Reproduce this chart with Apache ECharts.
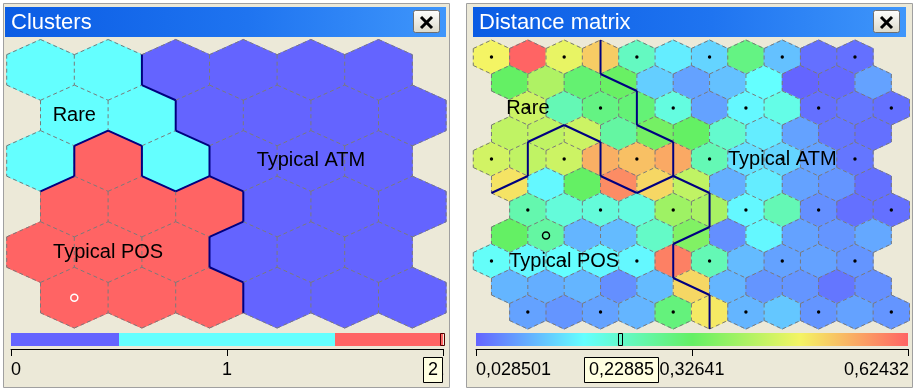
<!DOCTYPE html>
<html><head><meta charset="utf-8">
<script src="https://cdn.jsdelivr.net/npm/echarts@6/dist/echarts.min.js"></script>
<style>html,body{margin:0;padding:0;background:#fff}#c{width:916px;height:389px}</style>
</head><body><div id="c"></div>
<script>
// ================= DATA =================
// Cluster id of each map unit (6 rows x 6 cols, odd rows shifted right): 0 = Typical ATM, 1 = Rare, 2 = Typical POS
const clusterRows = [
  [1, 1, 0, 0, 0, 0],
  [1, 1, 0, 0, 0, 0],
  [1, 2, 1, 0, 0, 0],
  [2, 2, 2, 0, 0, 0],
  [2, 2, 2, 0, 0, 0],
  [2, 2, 2, 0, 0, 0]
];
const clusterTickValues = [0, 1, 2];
const clusterTickLabels = ['0', '1', '2'];
const clusterSelected = 2;
const clusterSelectedLabel = '2';

// Cluster labels and the map unit (row, col) they sit on
const labelTexts = ['Rare', 'Typical ATM', 'Typical POS'];
const labelUnitRow = [1, 2, 4];
const labelUnitCol = [0, 4, 1];
const markedUnit = [5, 0];     // map unit (row, col) with the marker circle
const markedUCell = [7, 1];    // distance-matrix cell (row, index) with the marker circle

// Distance matrix (U-matrix) values, 11 rows x 11 cells
const uRow0  = [0.475, 0.624, 0.463, 0.517, 0.237, 0.160, 0.136, 0.297, 0.118, 0.040, 0.040];
const uRow1  = [0.326, 0.404, 0.314, 0.332, 0.130, 0.088, 0.118, 0.177, 0.029, 0.034, 0.088];
const uRow2  = [0.434, 0.249, 0.297, 0.309, 0.207, 0.088, 0.171, 0.201, 0.040, 0.046, 0.040];
const uRow3  = [0.422, 0.422, 0.434, 0.267, 0.344, 0.326, 0.225, 0.160, 0.088, 0.046, 0.040];
const uRow4  = [0.440, 0.422, 0.434, 0.547, 0.529, 0.553, 0.249, 0.148, 0.136, 0.088, 0.046];
const uRow5  = [0.493, 0.171, 0.326, 0.583, 0.505, 0.422, 0.100, 0.160, 0.088, 0.076, 0.040];
const uRow6  = [0.255, 0.213, 0.213, 0.207, 0.386, 0.398, 0.171, 0.249, 0.070, 0.040, 0.040];
const uRow7  = [0.326, 0.267, 0.106, 0.112, 0.231, 0.356, 0.070, 0.171, 0.088, 0.076, 0.094];
const uRow8  = [0.183, 0.171, 0.177, 0.171, 0.171, 0.595, 0.249, 0.112, 0.088, 0.088, 0.076];
const uRow9  = [0.106, 0.100, 0.106, 0.070, 0.112, 0.505, 0.106, 0.076, 0.076, 0.046, 0.070];
const uRow10 = [0.088, 0.076, 0.088, 0.106, 0.303, 0.487, 0.106, 0.124, 0.076, 0.088, 0.076];
const uMatrixRows = [uRow0, uRow1, uRow2, uRow3, uRow4, uRow5, uRow6, uRow7, uRow8, uRow9, uRow10];
const uRange = [0.028501, 0.62432];
const uTickValues = [0.028501, 0.32641, 0.62432];
const uTickLabels = ['0,028501', '0,32641', '0,62432'];
const uSelected = 0.22885;
const uSelectedLabel = '0,22885';

// ================= STYLE =================
const clusterColors = ['#6464ff', '#64ffff', '#ff6464'];
const uColors = ['#6464ff', '#64ffff', '#64f064', '#f4f464', '#ff6464'];
const FONT_LABEL = '20px "Liberation Sans", Arial, sans-serif';
const FONT_TICK = '18px "Liberation Sans", Arial, sans-serif';
const FONT_TITLE = '22px "Liberation Sans", Arial, sans-serif';
const HEX = [[0, -2/3], [0.5, -1/3], [0.5, 1/3], [0, 2/3], [-0.5, 1/3], [-0.5, -1/3]];

// ================= GEOMETRY HELPERS =================
function mapX(r, c) { return c + 0.5 * (r % 2); }
function uX(r, i) { return i + (r % 2 ? 0.5 : (r % 4 === 0 ? 0 : 1)); }

function uniqueEdges(cells) {
  const seen = new Set(), out = [];
  cells.forEach(function (cell) {
    const x = cell[0], y = cell[1];
    for (let k = 0; k < 6; k++) {
      const a = [x + HEX[k][0], y + HEX[k][1]];
      const b = [x + HEX[(k + 1) % 6][0], y + HEX[(k + 1) % 6][1]];
      let p = a, q = b;
      if (a[0] > b[0] + 1e-9 || (Math.abs(a[0] - b[0]) < 1e-9 && a[1] > b[1])) { p = b; q = a; }
      const key = [p[0], p[1], q[0], q[1]].map(function (v) { return v.toFixed(3); }).join(',');
      if (!seen.has(key)) { seen.add(key); out.push([p[0], p[1], q[0], q[1]]); }
    }
  });
  return out;
}

function clusterBoundaries(scale) {
  const segs = [];
  const nr = clusterRows.length;
  for (let r = 0; r < nr; r++) {
    const nc = clusterRows[r].length;
    for (let c = 0; c < nc; c++) {
      const k = clusterRows[r][c];
      const x = mapX(r, c), y = r;
      const V = HEX.map(function (o) { return [(x + o[0]) * scale, (y + o[1]) * scale]; });
      if (c + 1 < nc && clusterRows[r][c + 1] !== k) segs.push([V[1][0], V[1][1], V[2][0], V[2][1]]);
      if (r + 1 < nr) {
        const odd = r % 2;
        const cr = odd ? c + 1 : c, cl = odd ? c : c - 1;
        if (cr < clusterRows[r + 1].length && clusterRows[r + 1][cr] !== k) segs.push([V[2][0], V[2][1], V[3][0], V[3][1]]);
        if (cl >= 0 && clusterRows[r + 1][cl] !== k) segs.push([V[3][0], V[3][1], V[4][0], V[4][1]]);
      }
    }
  }
  return segs;
}

// ================= SERIES DATA =================
const clusterCells = [];
clusterRows.forEach(function (row, r) { row.forEach(function (k, c) { clusterCells.push([mapX(r, c), r, k, 0]); }); });
const uCells = [];
uMatrixRows.forEach(function (row, r) {
  row.forEach(function (v, i) { uCells.push([uX(r, i), r, v, (r % 2 === 0 && i % 2 === 0) ? 1 : 0]); });
});
const leftLabels = labelTexts.map(function (t, i) { return [mapX(labelUnitRow[i], labelUnitCol[i]), labelUnitRow[i], i]; });
const rightLabels = leftLabels.map(function (d) { return [d[0] * 2, d[1] * 2, d[2]]; });
const clusterBarSegs = clusterColors.map(function (c, k) {
  return [Math.max(0, k - 0.5), Math.min(clusterColors.length - 1, k + 0.5), k];
});

// ================= RENDERERS =================
function hexRenderer(params, api) {
  const x = api.value(0), y = api.value(1);
  const pts = HEX.map(function (o) { return api.coord([x + o[0], y + o[1]]); });
  const color = api.visual('color');
  const children = [{ type: 'polygon', shape: { points: pts }, style: { fill: color, stroke: color, lineWidth: 1 } }];
  if (api.value(3) === 1) {
    const c = api.coord([x, y]);
    children.push({ type: 'circle', shape: { cx: c[0], cy: c[1], r: 1.7 }, style: { fill: '#000' } });
  }
  return { type: 'group', children: children };
}
function segRenderer(st) {
  return function (params, api) {
    const a = api.coord([api.value(0), api.value(1)]);
    const b = api.coord([api.value(2), api.value(3)]);
    return { type: 'line', shape: { x1: a[0], y1: a[1], x2: b[0], y2: b[1] }, style: Object.assign({}, st) };
  };
}
function labelRenderer(params, api) {
  const p = api.coord([api.value(0), api.value(1)]);
  return { type: 'text', x: p[0], y: p[1], style: { text: labelTexts[api.value(2)], font: FONT_LABEL, fill: '#000', align: 'center', verticalAlign: 'middle' } };
}
function circleRenderer(color) {
  return function (params, api) {
    const p = api.coord([api.value(0), api.value(1)]);
    return { type: 'circle', shape: { cx: p[0], cy: p[1], r: 3.5 }, style: { fill: 'none', stroke: color, lineWidth: 1.5 } };
  };
}
function clusterBarRenderer(params, api) {
  const a = api.coord([api.value(0), 1]), b = api.coord([api.value(1), 0]);
  return { type: 'rect', shape: { x: a[0], y: a[1], width: b[0] - a[0], height: b[1] - a[1] }, style: { fill: api.visual('color') } };
}
function uBarRenderer(params, api) {
  const a = api.coord([api.value(0), 1]), b = api.coord([api.value(1), 0]);
  const stops = uColors.map(function (c, i) { return { offset: i / (uColors.length - 1), color: c }; });
  return { type: 'rect', shape: { x: a[0], y: a[1], width: b[0] - a[0], height: b[1] - a[1] },
    style: { fill: new echarts.graphic.LinearGradient(0, 0, 1, 0, stops) } };
}
function tickLabelRenderer(labels) {
  return function (params, api) {
    const i = api.value(1);
    const p = api.coord([api.value(0), 0]);
    const align = i === 0 ? 'left' : (i === labels.length - 1 ? 'right' : 'center');
    return { type: 'text', x: p[0] + (align === 'right' ? 1 : 0), y: p[1] + 24, style: { text: labels[i], font: FONT_TICK, fill: '#000', align: align, verticalAlign: 'middle' } };
  };
}
const measureCtx = document.createElement('canvas').getContext('2d');
function textWidth(t, font) { measureCtx.font = font; return measureCtx.measureText(t).width; }
function selectionRenderer(text, lo, hi, markColor) {
  return function (params, api) {
    const top = api.coord([api.value(0), 1]), bot = api.coord([api.value(0), 0]);
    const x0 = api.coord([lo, 0])[0], x1 = api.coord([hi, 0])[0];
    const bw = Math.round(textWidth(text, FONT_TICK)) + 9;
    let cx = Math.max(x0 + bw / 2, Math.min(x1 - 1 - bw / 2, top[0]));
    const bx = Math.round(cx - bw / 2) + 0.5;
    return { type: 'group', children: [
      { type: 'rect', shape: { x: Math.round(top[0]) - 2.5, y: top[1] + 0.5, width: 4, height: bot[1] - top[1] - 1 }, style: { fill: 'none', stroke: markColor, lineWidth: 1 } },
      { type: 'rect', shape: { x: bx, y: bot[1] + 11.5, width: bw, height: 25 }, style: { fill: '#ffffe1', stroke: '#000', lineWidth: 1 } },
      { type: 'text', x: bx + bw / 2, y: bot[1] + 24.5, style: { text: text, font: FONT_TICK, fill: '#000', align: 'center', verticalAlign: 'middle' } }
    ] };
  };
}

// ================= WINDOW CHROME =================
function chrome(x0, x1, tbx, tx1, title) {
  return [
    { type: 'rect', z: -10, shape: { x: x0 + 0.5, y: 3.5, width: x1 - x0, height: 384 }, style: { fill: '#ece9d8', stroke: '#a0a0a0', lineWidth: 1 } },
    { type: 'rect', z: -9, shape: { x: tbx, y: 7, width: tx1 - tbx, height: 30 },
      style: { fill: new echarts.graphic.LinearGradient(0, 0, 1, 0, [{ offset: 0, color: '#0a5ce4' }, { offset: 0.55, color: '#1f74f0' }, { offset: 1, color: '#3f96fb' }]) } },
    { type: 'text', z: -8, x: tbx + 6, y: 22.5, style: { text: title, font: FONT_TITLE, fill: '#ffffff', verticalAlign: 'middle' } },
    { type: 'rect', z: -8, shape: { x: tx1 - 32.5, y: 10.5, width: 26, height: 22, r: 2 },
      style: { fill: new echarts.graphic.LinearGradient(0, 0, 0, 1, [{ offset: 0, color: '#ffffff' }, { offset: 1, color: '#dcd8c8' }]), stroke: '#6f6f6f', lineWidth: 1 } },
    { type: 'line', z: -7, shape: { x1: tx1 - 25, y1: 17, x2: tx1 - 14, y2: 28 }, style: { stroke: '#000', lineWidth: 3 } },
    { type: 'line', z: -7, shape: { x1: tx1 - 14, y1: 17, x2: tx1 - 25, y2: 28 }, style: { stroke: '#000', lineWidth: 3 } }
  ];
}

// ================= CHART =================
const chart = echarts.init(document.getElementById('c'), null, { renderer: 'canvas' });
const hiddenX = function (i, min, max) { return { gridIndex: i, type: 'value', min: min, max: max, show: false }; };
const hiddenY = function (i, min, max, inv) { return { gridIndex: i, type: 'value', min: min, max: max, inverse: !!inv, show: false }; };
const barAxis = function (i, min, max, extra) {
  return Object.assign({
    gridIndex: i, type: 'value', min: min, max: max, position: 'bottom', offset: 3,
    axisLine: { show: true, onZero: false, lineStyle: { color: '#000', width: 1 } },
    axisTick: { show: true, length: 7, lineStyle: { color: '#000', width: 1 } },
    axisLabel: { show: false }, splitLine: { show: false }
  }, extra);
};

const option = {
  animation: false,
  backgroundColor: '#ffffff',
  graphic: { elements: chrome(3, 449, 5, 446, 'Clusters').concat(chrome(466, 912, 473, 906, 'Distance matrix')) },
  grid: [
    { left: 6.7, top: 39.5, width: 439.4, height: 288.5 },
    { left: 473.3, top: 40, width: 436.2, height: 289 },
    { left: 11, top: 333, width: 432, height: 13 },
    { left: 476, top: 333, width: 432, height: 13 }
  ],
  xAxis: [
    hiddenX(0, -0.5, 6),
    hiddenX(1, -0.5, 11.5),
    barAxis(2, clusterTickValues[0], clusterTickValues[clusterTickValues.length - 1], { interval: 1 }),
    barAxis(3, uRange[0], uRange[1], { axisTick: { show: true, length: 7, customValues: uTickValues, lineStyle: { color: '#000', width: 1 } } })
  ],
  yAxis: [
    hiddenY(0, -2/3, 5 + 2/3, true),
    hiddenY(1, -2/3, 10 + 2/3, true),
    hiddenY(2, 0, 1),
    hiddenY(3, 0, 1)
  ],
  visualMap: [
    { type: 'piecewise', show: false, dimension: 2, seriesIndex: [0, 10],
      pieces: clusterColors.map(function (c, k) { return { value: k, color: c }; }) },
    { type: 'continuous', show: false, dimension: 2, seriesIndex: [5], min: uRange[0], max: uRange[1], inRange: { color: uColors } }
  ],
  series: [
    // left: clusters
    { type: 'custom', xAxisIndex: 0, yAxisIndex: 0, z: 2, data: clusterCells, renderItem: hexRenderer },
    { type: 'custom', xAxisIndex: 0, yAxisIndex: 0, z: 3, data: uniqueEdges(clusterCells), renderItem: segRenderer({ stroke: '#7a7a7a', lineWidth: 1, lineDash: [4, 3] }) },
    { type: 'custom', xAxisIndex: 0, yAxisIndex: 0, z: 4, data: clusterBoundaries(1), renderItem: segRenderer({ stroke: '#000080', lineWidth: 2 }) },
    { type: 'custom', xAxisIndex: 0, yAxisIndex: 0, z: 5, data: leftLabels, renderItem: labelRenderer },
    { type: 'custom', xAxisIndex: 0, yAxisIndex: 0, z: 5, data: [[mapX(markedUnit[0], markedUnit[1]), markedUnit[0]]], renderItem: circleRenderer('#ffffff') },
    // right: distance matrix
    { type: 'custom', xAxisIndex: 1, yAxisIndex: 1, z: 2, data: uCells, renderItem: hexRenderer },
    { type: 'custom', xAxisIndex: 1, yAxisIndex: 1, z: 3, data: uniqueEdges(uCells), renderItem: segRenderer({ stroke: '#7a7a7a', lineWidth: 1, lineDash: [4, 3] }) },
    { type: 'custom', xAxisIndex: 1, yAxisIndex: 1, z: 4, data: clusterBoundaries(2), renderItem: segRenderer({ stroke: '#000080', lineWidth: 2 }) },
    { type: 'custom', xAxisIndex: 1, yAxisIndex: 1, z: 5, data: rightLabels, renderItem: labelRenderer },
    { type: 'custom', xAxisIndex: 1, yAxisIndex: 1, z: 5, data: [[uX(markedUCell[0], markedUCell[1]), markedUCell[0]]], renderItem: circleRenderer('#000000') },
    // left colour bar
    { type: 'custom', xAxisIndex: 2, yAxisIndex: 2, z: 2, data: clusterBarSegs, renderItem: clusterBarRenderer },
    { type: 'custom', xAxisIndex: 2, yAxisIndex: 2, z: 3, data: clusterTickValues.map(function (v, i) { return [v, i]; }), renderItem: tickLabelRenderer(clusterTickLabels) },
    { type: 'custom', xAxisIndex: 2, yAxisIndex: 2, z: 6, data: [[clusterSelected]],
      renderItem: selectionRenderer(clusterSelectedLabel, clusterTickValues[0], clusterTickValues[clusterTickValues.length - 1], '#500000') },
    // right colour bar
    { type: 'custom', xAxisIndex: 3, yAxisIndex: 3, z: 2, data: [[uRange[0], uRange[1]]], renderItem: uBarRenderer },
    { type: 'custom', xAxisIndex: 3, yAxisIndex: 3, z: 3, data: uTickValues.map(function (v, i) { return [v, i]; }), renderItem: tickLabelRenderer(uTickLabels) },
    { type: 'custom', xAxisIndex: 3, yAxisIndex: 3, z: 6, data: [[uSelected]],
      renderItem: selectionRenderer(uSelectedLabel, uRange[0], uRange[1], '#000000') }
  ]
};
chart.setOption(option);
</script>
</body></html>
